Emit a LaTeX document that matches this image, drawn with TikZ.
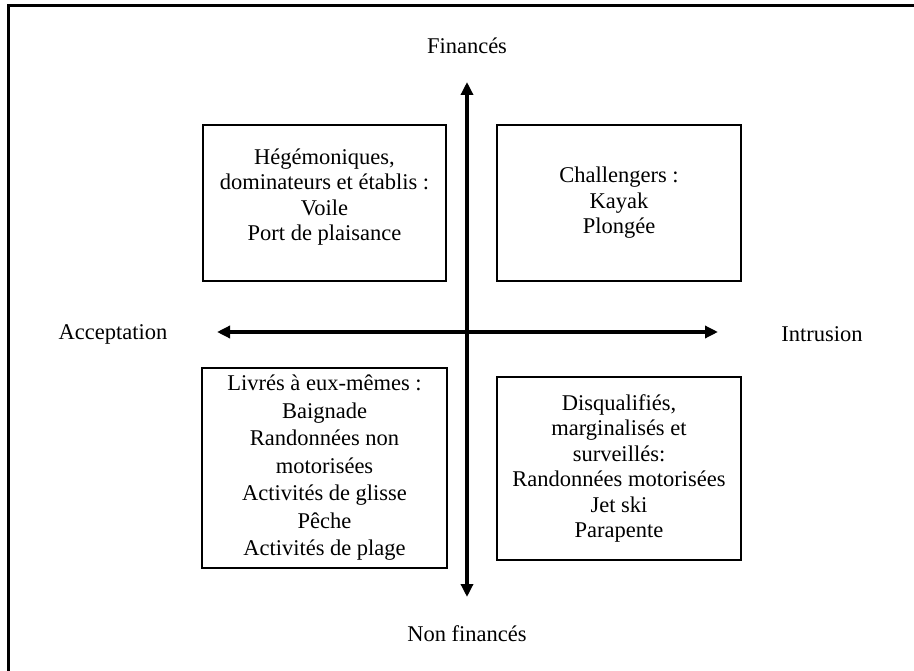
\documentclass[tikz,border=0pt]{standalone}
\usepackage{fontspec}
\setmainfont{Liberation Serif}
\usetikzlibrary{arrows.meta}
\begin{document}
\begin{tikzpicture}[x=1pt,y=-1pt,
  quad/.style={draw,line width=1.2pt,inner sep=0pt,align=center,
    font=\fontsize{22.5}{25.5}\selectfont},
  lbl/.style={inner sep=0pt,font=\fontsize{22.5}{26}\selectfont},
  axis/.style={line width=3.6pt,{Triangle[length=13pt,width=12pt]}-{Triangle[length=13pt,width=12pt]},shorten <=0pt,shorten >=0pt}]
\useasboundingbox (0,0) rectangle (914,671);
\fill[white] (0,0) rectangle (914,671);
% outer frame (left and top edges)
\coordinate (fb) at (8,671);
\coordinate (fc) at (8,6);
\coordinate (fr) at (914,6);
\draw[line width=3pt] (fb) -- (fc) -- (fr);
% boxes
\node[quad,minimum width=243pt,minimum height=156pt] (tl) at (324.5,203) {};
\node[align=center,inner sep=0pt,font=\fontsize{22.5}{25.5}\selectfont] (tltext) at (324.5,197)
  {Hégémoniques,\\dominateurs et établis :\\Voile\\Port de plaisance};
\node[quad,minimum width=244pt,minimum height=156pt] (tr) at (619,203)
  {Challengers :\\Kayak\\Plongée};
\node[quad,minimum width=245pt,minimum height=200pt,font=\fontsize{22.5}{27.5}\selectfont] (bl) at (324.5,468)
  {Livrés à eux-mêmes :\\Baignade\\Randonnées non\\motorisées\\Activités de glisse\\Pêche\\Activités de plage};
\node[quad,minimum width=244pt,minimum height=183pt] (br) at (619,468.5)
  {Disqualifiés,\\marginalisés et\\surveillés:\\Randonnées motorisées\\Jet ski\\Parapente};
% axes
\coordinate (top) at (467,82);
\coordinate (bot) at (467,597);
\coordinate (lft) at (217,332);
\coordinate (rgt) at (718,332);
\draw[axis] (bot) -- (top);
\draw[axis] (lft) -- (rgt);
% labels
\node[lbl] (fin) at (467,46) {Financés};
\node[lbl] (nfin) at (467,634) {Non financés};
\node[lbl] (acc) at (113,334) {Acceptation};
\node[lbl] (intr) at (822,334) {Intrusion};
\end{tikzpicture}
\end{document}
